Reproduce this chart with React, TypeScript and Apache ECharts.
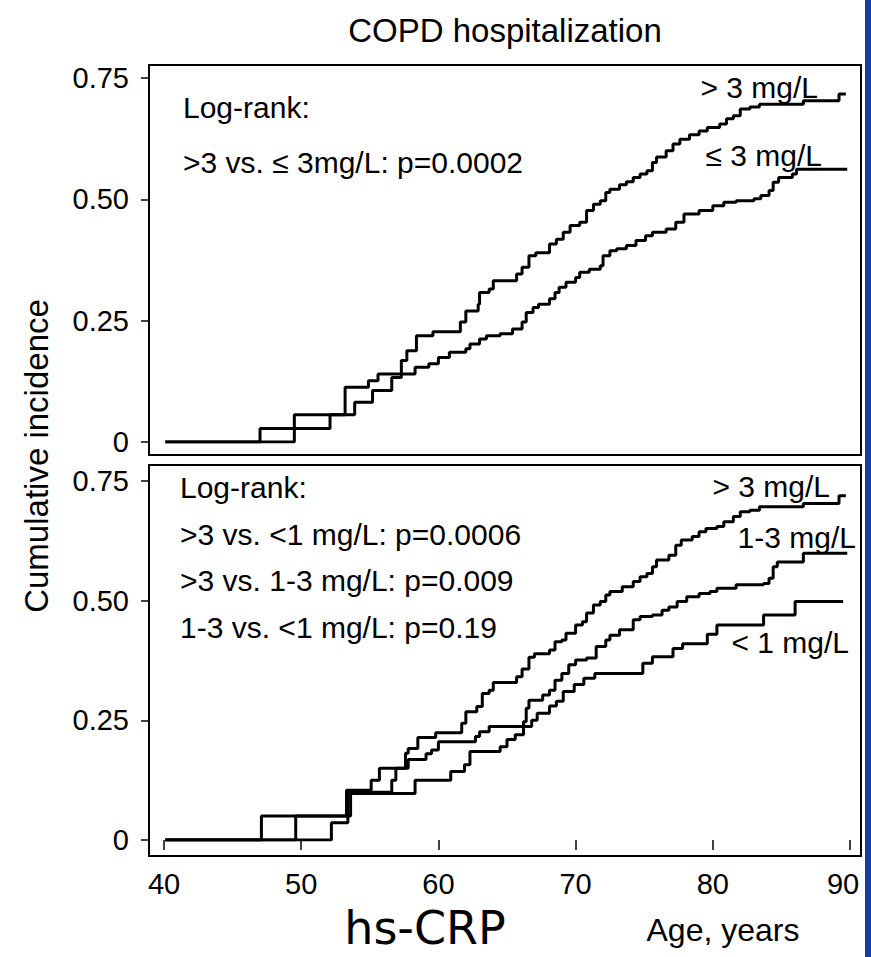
import React, { useEffect, useRef } from "react";
import * as echarts from "echarts";

// ---- data (age in years, cumulative incidence) ----
const xTickValues = [40, 50, 60, 70, 80, 90];
const yTickValues = [0, 0.25, 0.5, 0.75];

const topAbove3: [number, number][] = [
  [40.1, 0], [47.0, 0.028], [49.5, 0.056], [53.2, 0.113], [54.9, 0.126], [55.6, 0.14], [57.3, 0.168],
  [57.7, 0.188], [58.4, 0.219], [59.6, 0.227], [61.6, 0.247], [62.0, 0.27], [62.9, 0.284], [63.0, 0.308],
  [63.7, 0.315], [64.0, 0.332], [65.7, 0.346], [66.1, 0.36], [66.6, 0.384], [67.1, 0.39], [68.1, 0.408],
  [68.6, 0.418], [69.1, 0.432], [69.6, 0.446], [70.3, 0.453], [70.8, 0.477], [71.3, 0.49], [71.8, 0.497],
  [72.2, 0.514], [72.5, 0.521], [73.2, 0.53], [73.7, 0.536], [74.2, 0.545], [74.7, 0.552], [75.2, 0.559],
  [75.6, 0.576], [75.9, 0.587], [76.6, 0.6], [77.1, 0.614], [77.6, 0.624], [78.3, 0.633], [79.0, 0.641],
  [79.6, 0.648], [80.5, 0.655], [81.0, 0.666], [81.5, 0.672], [82.0, 0.686], [82.7, 0.69], [83.4, 0.696],
  [86.6, 0.703], [89.2, 0.717], [89.7, 0.717],
];

const topAtMost3: [number, number][] = [
  [40.1, 0], [49.5, 0.028], [52.1, 0.056], [53.9, 0.082], [55.2, 0.106], [56.6, 0.133], [57.3, 0.14],
  [58.3, 0.154], [59.3, 0.161], [60.0, 0.174], [60.8, 0.185], [62.0, 0.192], [62.3, 0.202], [63.0, 0.212],
  [63.5, 0.219], [64.5, 0.223], [65.4, 0.233], [66.1, 0.247], [66.4, 0.267], [66.9, 0.277], [67.3, 0.284],
  [68.1, 0.295], [68.5, 0.308], [68.8, 0.319], [69.3, 0.329], [70.0, 0.339], [70.3, 0.35], [71.0, 0.356],
  [71.8, 0.363], [72.0, 0.384], [72.5, 0.394], [73.0, 0.398], [73.7, 0.405], [74.4, 0.415], [75.1, 0.425],
  [75.6, 0.432], [76.6, 0.439], [77.3, 0.453], [77.9, 0.47], [79.0, 0.477], [80.0, 0.487], [80.8, 0.494],
  [81.7, 0.497], [83.0, 0.501], [83.5, 0.508], [84.1, 0.518], [84.4, 0.535], [84.8, 0.545], [85.8, 0.552],
  [86.1, 0.562], [89.8, 0.562],
];

const bottomAbove3: [number, number][] = [
  [40.1, 0], [47.1, 0.05], [53.3, 0.104], [55.1, 0.125], [55.7, 0.15], [57.6, 0.181], [57.8, 0.191],
  [58.5, 0.214], [59.8, 0.224], [61.7, 0.244], [62.0, 0.268], [62.8, 0.279], [63.2, 0.306], [63.7, 0.313],
  [64.0, 0.329], [65.7, 0.341], [66.1, 0.357], [66.6, 0.382], [67.0, 0.389], [68.1, 0.397], [68.5, 0.414],
  [69.0, 0.418], [69.3, 0.432], [70.0, 0.449], [70.5, 0.456], [70.8, 0.474], [71.3, 0.491], [71.8, 0.498],
  [72.2, 0.512], [72.5, 0.519], [73.4, 0.529], [74.2, 0.54], [74.7, 0.55], [75.2, 0.557], [75.6, 0.571],
  [75.9, 0.585], [76.8, 0.595], [77.3, 0.616], [77.7, 0.627], [78.5, 0.634], [79.0, 0.644], [79.5, 0.651],
  [80.3, 0.655], [80.8, 0.665], [81.5, 0.676], [82.0, 0.686], [82.7, 0.689], [83.4, 0.696], [86.6, 0.703],
  [89.2, 0.719], [89.7, 0.719],
];

const bottomOneToThree: [number, number][] = [
  [40.1, 0], [52.2, 0.036], [53.4, 0.1], [56.6, 0.125], [56.9, 0.15], [57.8, 0.168], [59.1, 0.18],
  [59.5, 0.188], [60.0, 0.205], [62.7, 0.216], [63.0, 0.226], [63.7, 0.237], [66.2, 0.247], [66.4, 0.275],
  [66.6, 0.292], [67.6, 0.303], [68.1, 0.313], [68.5, 0.334], [69.0, 0.348], [69.5, 0.366], [70.0, 0.376],
  [70.8, 0.38], [71.5, 0.404], [72.2, 0.418], [72.5, 0.428], [73.2, 0.439], [74.2, 0.46], [74.7, 0.467],
  [75.6, 0.47], [76.3, 0.48], [76.8, 0.487], [77.4, 0.498], [78.1, 0.508], [79.0, 0.515], [79.8, 0.519],
  [80.3, 0.526], [81.7, 0.533], [83.7, 0.536], [84.1, 0.547], [84.4, 0.571], [84.7, 0.581], [86.6, 0.599],
  [89.8, 0.599],
];

const bottomBelow1: [number, number][] = [
  [40.1, 0], [49.6, 0.05], [53.6, 0.097], [58.3, 0.125], [60.9, 0.143], [61.9, 0.157], [62.3, 0.185],
  [64.5, 0.195], [65.0, 0.21], [65.6, 0.22], [66.2, 0.237], [66.8, 0.25], [67.2, 0.265], [68.1, 0.28],
  [68.6, 0.29], [69.1, 0.31], [69.9, 0.325], [70.6, 0.338], [71.4, 0.348], [74.9, 0.369], [75.6, 0.383],
  [77.1, 0.4], [77.8, 0.41], [79.6, 0.43], [80.3, 0.449], [83.7, 0.47], [86.0, 0.498], [89.5, 0.498],
];

const titleText = "COPD hospitalization";
const yAxisTitle = "Cumulative incidence";
const xAxisTitle = "Age, years";
const footerText = "hs-CRP";
const topNotes = ["Log-rank:", ">3 vs. \u2264 3mg/L: p=0.0002"];
const bottomNotes = ["Log-rank:", ">3 vs. <1 mg/L: p=0.0006", ">3 vs. 1-3 mg/L: p=0.009", "1-3 vs. <1 mg/L: p=0.19"];
const topCurveLabels = ["> 3 mg/L", "\u2264 3 mg/L"];
const bottomCurveLabels = ["> 3 mg/L", "1-3 mg/L", "< 1 mg/L"];

// ---- layout ----
const W = 871;
const H = 957;
const FONT = "'Liberation Sans', Arial, sans-serif";
const plotLeft = 164;
const plotRight = 850;
const top1 = 78, bot1 = 442;
const top2 = 481, bot2 = 840;
const frameLeft = 149, frameRight = 861;
const noteSize = 30;
const tickSize = 29;

function yAxisFor(gridIndex: number) {
  return {
    gridIndex,
    type: "value",
    min: 0,
    max: 0.75,
    interval: 0.25,
    offset: plotLeft - frameLeft,
    axisLine: { show: false },
    axisTick: { show: true, length: 8, lineStyle: { color: "#000", width: 1.5 } },
    splitLine: { show: false },
    axisLabel: {
      show: true,
      margin: 20,
      fontFamily: FONT,
      fontSize: tickSize,
      color: "#000",
      customValues: yTickValues,
      formatter: (v: number) => (v === 0 ? "0" : v.toFixed(2)),
    },
  };
}

function stepSeries(data: [number, number][], idx: number) {
  return {
    type: "line",
    step: "end",
    xAxisIndex: idx,
    yAxisIndex: idx,
    data,
    showSymbol: false,
    symbol: "none",
    lineStyle: { color: "#000", width: 3 },
    silent: true,
  };
}

function textEl(text: string, x: number, y: number, size: number, align = "left", extra: any = {}) {
  const { fontFamily, ...rest } = extra;
  return {
    type: "text",
    x,
    y,
    silent: true,
    ...rest,
    style: {
      text,
      font: `${size}px ${fontFamily || FONT}`,
      fill: "#000",
      textAlign: align,
      textVerticalAlign: "middle",
    },
  };
}

export default function App() {
  const ref = useRef<HTMLDivElement>(null);
  useEffect(() => {
    const chart = echarts.init(ref.current!, null, { renderer: "svg" });
    const lastTick = xTickValues[xTickValues.length - 1];
    const option: any = {
      animation: false,
      backgroundColor: "#fff",
      grid: [
        { left: plotLeft, width: plotRight - plotLeft, top: top1, height: bot1 - top1 },
        { left: plotLeft, width: plotRight - plotLeft, top: top2, height: bot2 - top2 },
      ],
      xAxis: [
        {
          gridIndex: 0, type: "value", min: 40, max: 90, interval: 10,
          axisLine: { show: false }, axisTick: { show: false }, axisLabel: { show: false }, splitLine: { show: false },
        },
        {
          gridIndex: 1, type: "value", min: 40, max: 90, interval: 10,
          offset: 856 - bot2,
          axisLine: { show: false },
          axisTick: { show: true, length: 10, lineStyle: { color: "#000", width: 1.5 } },
          splitLine: { show: false },
          axisLabel: {
            margin: 13, fontFamily: FONT, fontSize: tickSize, color: "#000",
            customValues: xTickValues,
            formatter: (v: number) => (v === lastTick ? `{last|${v}}` : `${v}`),
            rich: {
              last: { fontFamily: FONT, fontSize: tickSize, color: "#000", padding: [0, 14, 0, 0] },
            },
          },
        },
      ],
      yAxis: [yAxisFor(0), yAxisFor(1)],
      series: [
        stepSeries(topAbove3, 0),
        stepSeries(topAtMost3, 0),
        stepSeries(bottomAbove3, 1),
        stepSeries(bottomOneToThree, 1),
        stepSeries(bottomBelow1, 1),
      ],
      graphic: [
        { type: "rect", silent: true, shape: { x: frameLeft, y: 65, width: frameRight - frameLeft, height: 455 - 65 },
          style: { fill: "none", stroke: "#000", lineWidth: 2 } },
        { type: "rect", silent: true, shape: { x: frameLeft, y: 465, width: frameRight - frameLeft, height: 856 - 465 },
          style: { fill: "none", stroke: "#000", lineWidth: 2 } },
        { type: "rect", silent: true, shape: { x: 865, y: 0, width: 6, height: H }, style: { fill: "#1c3d9c" } },
        textEl(titleText, 505, 30, 33, "center"),
        textEl(topNotes[0], 183, 107, noteSize),
        textEl(topNotes[1], 183, 162, noteSize),
        textEl(topCurveLabels[0], 818, 87, noteSize, "right"),
        textEl(topCurveLabels[1], 822, 155, noteSize, "right"),
        textEl(bottomNotes[0], 180, 487, noteSize),
        textEl(bottomNotes[1], 180, 534, noteSize),
        textEl(bottomNotes[2], 180, 580, noteSize),
        textEl(bottomNotes[3], 180, 627, noteSize),
        textEl(bottomCurveLabels[0], 830, 486, noteSize, "right"),
        textEl(bottomCurveLabels[1], 856, 537, noteSize, "right"),
        textEl(bottomCurveLabels[2], 849, 642, noteSize, "right"),
        textEl(yAxisTitle, 36, 456, 33, "center", { rotation: Math.PI / 2 }),
        textEl(xAxisTitle, 723, 930, 32, "center"),
        textEl(footerText, 425, 928, 46, "center", { fontFamily: "'DejaVu Sans', Verdana, sans-serif" }),
      ],
    };
    chart.setOption(option);
    return () => chart.dispose();
  }, []);
  return (
    <div
      ref={ref}
      style={{ position: "fixed", left: 0, top: 0, width: W, height: H, background: "#fff" }}
    />
  );
}
